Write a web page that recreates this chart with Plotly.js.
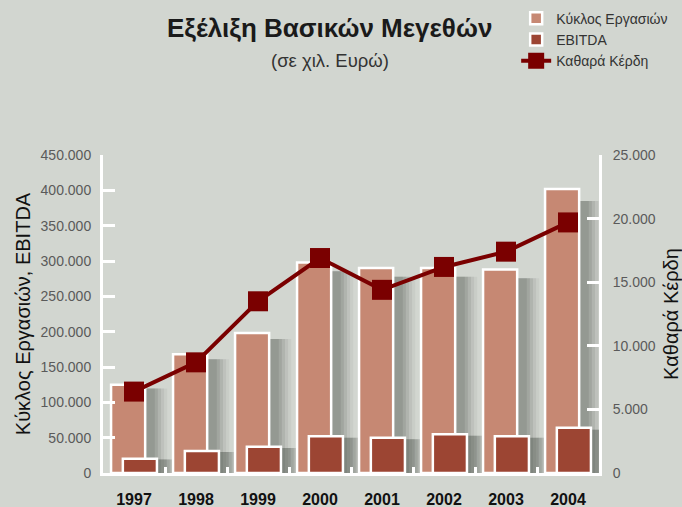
<!DOCTYPE html>
<html>
<head>
<meta charset="utf-8">
<script src="https://cdn.plot.ly/plotly-3.0.1.min.js"></script>
<style>html,body{margin:0;padding:0;background:#d2d6d0;}#chart{width:682px;height:507px;}</style>
</head>
<body>
<div id="chart"></div>
<script>
const years = ['1997','1998','1999','2000','2001','2002','2003','2004'];
const turnover = [125000, 168000, 198000, 298000, 290000, 290000, 288000, 402000];
const ebitda = [20000, 31000, 37000, 52000, 50000, 55000, 52000, 64000];
const netProfit = [6400, 8700, 13500, 16900, 14400, 16200, 17400, 19700];

const FONT = 'Liberation Sans, Arial, sans-serif';
const tickFont = {family: FONT, size: 14, color: '#5a5a5a'};

// soft drop-shadow layers drawn behind each bar series (same data, shifted right,
// drawn on the hidden base axis with a slightly larger range so they sit a bit lower)
function shadows(yvals, barOffset) {
  const layers = [
    {w: 0.78, a: 0.06}, {w: 0.68, a: 0.08}, {w: 0.58, a: 0.10}, {w: 0.48, a: 0.12}, {w: 0.38, a: 0.13}
  ];
  const centre = barOffset + 0.275 + 0.24;
  return layers.map(function (L) {
    return {type: 'bar', x: years, y: yvals, yaxis: 'y', width: L.w, offset: centre - L.w / 2,
      marker: {color: 'rgba(60,66,60,' + L.a + ')', line: {width: 0}},
      showlegend: false, hoverinfo: 'skip'};
  });
}

const traces = [].concat(
  shadows(turnover, -0.37),
  shadows(ebitda, -0.18),
  [{type: 'bar', x: years, y: turnover, yaxis: 'y2', name: 'Κύκλος Εργασιών', width: 0.55, offset: -0.37,
    marker: {color: '#c68873', line: {color: '#ffffff', width: 2.5}}},
   {type: 'bar', x: years, y: ebitda, yaxis: 'y2', name: 'EBITDA', width: 0.55, offset: -0.18,
    marker: {color: '#9c4533', line: {color: '#ffffff', width: 2.5}}},
   {type: 'scatter', mode: 'lines+markers', x: years, y: netProfit, yaxis: 'y3', name: 'Καθαρά Κέρδη',
    line: {color: '#7a0000', width: 4}, marker: {symbol: 'square', size: 20, color: '#7a0000'}}]
);

const layout = {
  width: 682, height: 507,
  paper_bgcolor: '#d2d6d0', plot_bgcolor: '#d2d6d0',
  margin: {l: 103, r: 83, t: 155, b: 34, autoexpand: false},
  separators: ',.',
  barmode: 'overlay',
  showlegend: true,
  legend: {x: 0.833, y: 1.479, xanchor: 'left', yanchor: 'top', bgcolor: 'rgba(0,0,0,0)',
    font: {family: FONT, size: 14, color: '#333333'}, tracegroupgap: 0},
  xaxis: {type: 'category', range: [-0.5, 7.5], showgrid: false, zeroline: false,
    showline: true, linecolor: '#ffffff', linewidth: 3,
    ticks: 'inside', tickson: 'boundaries', ticklen: 6, tickwidth: 3, tickcolor: '#ffffff',
    tickfont: {family: FONT, size: 16, color: '#111111', weight: 'bold'},
    ticklabelstandoff: 10},
  yaxis: {range: [0, 470000], visible: false, showgrid: false, zeroline: false},
  yaxis2: {overlaying: 'y', side: 'left', range: [0, 450000], dtick: 50000, tickformat: ',d', showgrid: false, zeroline: false,
    showline: true, linecolor: '#ffffff', linewidth: 3,
    ticks: 'inside', ticklen: 12, tickwidth: 3, tickcolor: '#ffffff',
    tickfont: tickFont, ticklabelstandoff: 6,
    title: {text: 'Κύκλος Εργασιών, EBITDA', font: {family: FONT, size: 20, color: '#111111'}, standoff: 5}},
  yaxis3: {overlaying: 'y', side: 'right', range: [0, 25000], dtick: 5000, tickformat: ',d', showgrid: false, zeroline: false,
    showline: true, linecolor: '#ffffff', linewidth: 3,
    ticks: 'inside', ticklen: 12, tickwidth: 3, tickcolor: '#ffffff',
    tickfont: tickFont, ticklabelstandoff: 8,
    title: {text: 'Καθαρά Κέρδη', font: {family: FONT, size: 20, color: '#111111'}, standoff: 12}},
  annotations: [
    {text: '<b>Εξέλιξη Βασικών Μεγεθών</b>', xref: 'paper', yref: 'paper', x: 0.456, y: 1.399, xanchor: 'center', yanchor: 'middle', showarrow: false,
     font: {family: FONT, size: 26, color: '#1a1a1a'}},
    {text: '(σε χιλ. Ευρώ)', xref: 'paper', yref: 'paper', x: 0.457, y: 1.296, xanchor: 'center', yanchor: 'middle', showarrow: false,
     font: {family: FONT, size: 18.5, color: '#333333'}}
  ]
};

Plotly.newPlot('chart', traces, layout, {displayModeBar: false, staticPlot: true});
</script>
</body>
</html>
